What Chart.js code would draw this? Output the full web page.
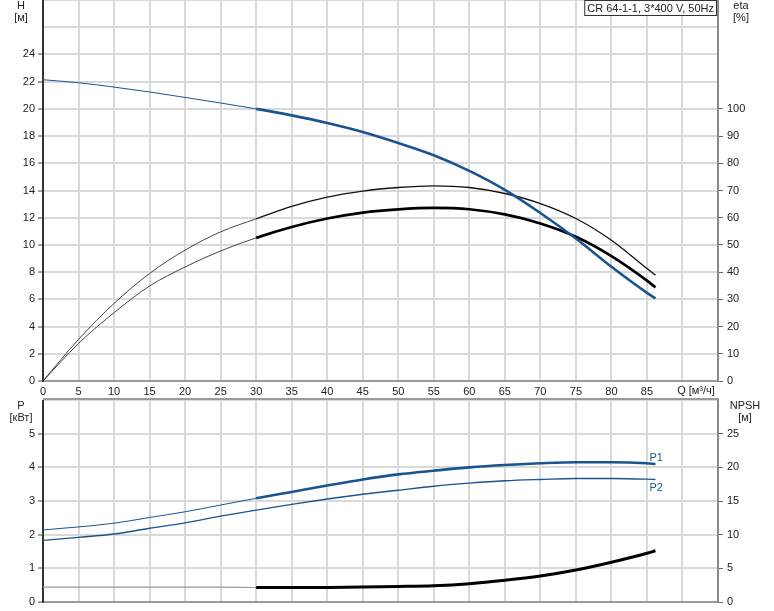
<!DOCTYPE html>
<html>
<head>
<meta charset="utf-8">
<script src="https://cdn.jsdelivr.net/npm/chart.js@4/dist/chart.umd.min.js"></script>
<style>
  html, body { margin: 0; padding: 0; background: #fff; }
  #wrap { position: relative; width: 774px; height: 611px; overflow: hidden; }
  canvas { position: absolute; left: 0; }
  #c1 { top: 0; }
  #c2 { top: 400px; }
</style>
</head>
<body>
<div id="wrap">
  <canvas id="c1" width="774" height="400"></canvas>
  <canvas id="c2" width="774" height="211"></canvas>
</div>
<script>
// ---- data ----
const Q        = [0, 5, 10, 15, 20, 25, 30, 35, 40, 45, 50, 55, 60, 65, 70, 75, 80, 85, 86.2];
const H        = [22.14, 21.92, 21.6, 21.24, 20.84, 20.43, 20.0, 19.52, 18.96, 18.3, 17.49, 16.59, 15.44, 14.05, 12.35, 10.47, 8.39, 6.48, 6.07];
const etaUpper = [0, 15.3, 28.5, 39.5, 48.1, 54.8, 59.6, 64.2, 67.6, 69.8, 71.1, 71.7, 71.1, 68.9, 65.2, 59.7, 51.7, 41.3, 38.9];
const etaLower = [0, 13.8, 25.1, 34.9, 41.9, 47.8, 52.6, 56.6, 59.7, 61.9, 63.1, 63.6, 63.1, 61.2, 57.9, 53.0, 45.9, 36.9, 34.4];
const P1       = [2.14, 2.23, 2.34, 2.51, 2.68, 2.88, 3.08, 3.27, 3.46, 3.64, 3.79, 3.9, 4.0, 4.07, 4.12, 4.15, 4.15, 4.12, 4.1];
const P2       = [1.83, 1.92, 2.02, 2.19, 2.35, 2.55, 2.73, 2.9, 3.06, 3.2, 3.32, 3.44, 3.53, 3.6, 3.64, 3.67, 3.67, 3.65, 3.64];
const NPSH     = [2.2, 2.2, 2.2, 2.2, 2.2, 2.2, 2.15, 2.15, 2.17, 2.22, 2.3, 2.42, 2.72, 3.22, 3.86, 4.75, 5.9, 7.23, 7.62];
const THICK_FROM = 30;           // curves are drawn thick from this flow on
const qLabels   = { max: 85 };   // last labelled Q tick
const hLabels   = { max: 24 };
const etaLabels = { max: 100 };
const pLabels   = { max: 5 };
const npshLabels= { max: 25 };
const titleText = 'CR 64-1-1, 3*400 V, 50Hz';

const FONT = '"Liberation Sans", Arial, sans-serif';
const BLUE = '#1a5490';
const pts = arr => Q.map((q, i) => ({ x: q, y: arr[i] }));
const seg = (thin, thick, thinCol, thickCol) => ({
  borderWidth: c => c.p0.parsed.x < THICK_FROM ? thin : thick,
  borderColor: c => c.p0.parsed.x < THICK_FROM ? thinCol : thickCol
});
const lineDefaults = { pointRadius: 0, cubicInterpolationMode: 'monotone', fill: false };

function fixW(w) { return s => { s.width = w; s.paddingTop = 0; s.paddingBottom = 0; }; }
function fixH(h) { return s => { s.height = h; s.paddingLeft = 0; s.paddingRight = 0; }; }
const GRID = '#d9d9d9';
const tickFont = { family: FONT, size: 11 };

function xScale(h, showLabels) {
  return {
    type: 'linear', min: 0, max: 95,
    afterFit: fixH(h),
    border: { display: true, color: '#9a9a9a', width: 2 },
    grid: { color: GRID, lineWidth: 2, drawTicks: false },
    ticks: {
      display: showLabels, stepSize: 5, autoSkip: false, maxRotation: 0, padding: 4,
      color: '#222', font: tickFont,
      callback: v => v <= qLabels.max ? String(v) : ''
    }
  };
}
function yLeft(max, step, lim, w) {
  return {
    type: 'linear', position: 'left', min: 0, max: max,
    afterFit: fixW(w),
    border: { display: true, color: '#333', width: 2 },
    grid: { color: GRID, lineWidth: 2, tickLength: 5, tickWidth: 1,
            tickColor: c => (c.tick && c.tick.value > lim) ? 'rgba(0,0,0,0)' : '#444' },
    ticks: { stepSize: step, autoSkip: false, padding: 3, color: '#222', font: tickFont,
             callback: v => v <= lim ? String(v) : '' }
  };
}
function yRight(max, step, lim, w) {
  return {
    type: 'linear', position: 'right', min: 0, max: max,
    afterFit: fixW(w),
    border: { display: true, color: '#8a8a8a', width: 2 },
    grid: { drawOnChartArea: false, tickLength: 5, tickWidth: 1,
            tickColor: c => (c.tick && c.tick.value > lim) ? 'rgba(0,0,0,0)' : '#666' },
    ticks: { stepSize: step, autoSkip: false, padding: 4, color: '#222', font: tickFont,
             callback: v => v <= lim ? String(v) : '' }
  };
}

function text(ctx, s, x, y, align, color) {
  ctx.save();
  ctx.font = '11px ' + FONT;
  ctx.fillStyle = color || '#222';
  ctx.textAlign = align || 'center';
  ctx.textBaseline = 'middle';
  ctx.fillText(s, x, y);
  ctx.restore();
}

const topTexts = {
  id: 'topTexts',
  afterDraw(chart) {
    const ctx = chart.ctx;
    text(ctx, 'H', 21, 6);
    text(ctx, '[м]', 21, 18);
    text(ctx, 'eta', 741, 6);
    text(ctx, '[%]', 741, 18);
    text(ctx, 'Q [м³/ч]', 696, 391);
    // title box
    ctx.save();
    ctx.font = '11px ' + FONT;
    const w = ctx.measureText(titleText).width + 6;
    const x0 = 717 - w;
    ctx.fillStyle = '#fff';
    ctx.fillRect(x0, 0, w, 16);
    ctx.strokeStyle = '#333';
    ctx.lineWidth = 1;
    ctx.strokeRect(x0 + 0.5, 0.5, w - 1, 15);
    ctx.restore();
    text(ctx, titleText, x0 + 3, 8.5, 'left');
    // top border of lower panel
    ctx.save();
    ctx.strokeStyle = '#9a9a9a';
    ctx.lineWidth = 2;
    ctx.beginPath();
    ctx.moveTo(43, 399);
    ctx.lineTo(719, 399);
    ctx.stroke();
    ctx.restore();
  }
};

const botTexts = {
  id: 'botTexts',
  afterDraw(chart) {
    const ctx = chart.ctx;
    text(ctx, 'P', 21, 6);
    text(ctx, '[кВт]', 21, 18);
    text(ctx, 'NPSH', 745, 6);
    text(ctx, '[м]', 745, 18);
    const xs = chart.scales.x, yp = chart.scales.yP;
    const lastQ = Q[Q.length - 1];
    text(ctx, 'P1', xs.getPixelForValue(lastQ) - 6, yp.getPixelForValue(P1[P1.length - 1]) - 6, 'left', BLUE);
    text(ctx, 'P2', xs.getPixelForValue(lastQ) - 6, yp.getPixelForValue(P2[P2.length - 1]) + 9, 'left', BLUE);
  }
};

new Chart(document.getElementById('c1'), {
  type: 'line',
  data: {
    datasets: [
      Object.assign({ data: pts(H), yAxisID: 'yH', borderColor: BLUE, segment: seg(1, 2.6, BLUE, BLUE), order: 1 }, lineDefaults),
      Object.assign({ data: pts(etaUpper), yAxisID: 'yE', borderColor: '#111', segment: seg(1, 1.3, '#444', '#111'), order: 2 }, lineDefaults),
      Object.assign({ data: pts(etaLower), yAxisID: 'yE', borderColor: '#000', segment: seg(1, 2.7, '#444', '#000'), order: 3 }, lineDefaults)
    ]
  },
  options: {
    responsive: false, animation: false, devicePixelRatio: 1,
    layout: { padding: 0 },
    plugins: { legend: { display: false }, tooltip: { enabled: false } },
    scales: {
      x: xScale(19, true),
      yH: yLeft(28, 2, hLabels.max, 43),
      yE: yRight(140, 10, etaLabels.max, 56)
    }
  },
  plugins: [topTexts]
});

new Chart(document.getElementById('c2'), {
  type: 'line',
  data: {
    datasets: [
      Object.assign({ data: pts(P1), yAxisID: 'yP', borderColor: BLUE, segment: seg(1, 2.6, BLUE, BLUE) }, lineDefaults),
      Object.assign({ data: pts(P2), yAxisID: 'yP', borderColor: BLUE, borderWidth: 1.4 }, lineDefaults),
      Object.assign({ data: pts(NPSH), yAxisID: 'yN', borderColor: '#000', segment: seg(1.2, 3, '#9a9a9a', '#000') }, lineDefaults)
    ]
  },
  options: {
    responsive: false, animation: false, devicePixelRatio: 1,
    layout: { padding: 0 },
    plugins: { legend: { display: false }, tooltip: { enabled: false } },
    scales: {
      x: xScale(9, false),
      yP: yLeft(6, 1, pLabels.max, 43),
      yN: yRight(30, 5, npshLabels.max, 56)
    }
  },
  plugins: [botTexts]
});
</script>
</body>
</html>
